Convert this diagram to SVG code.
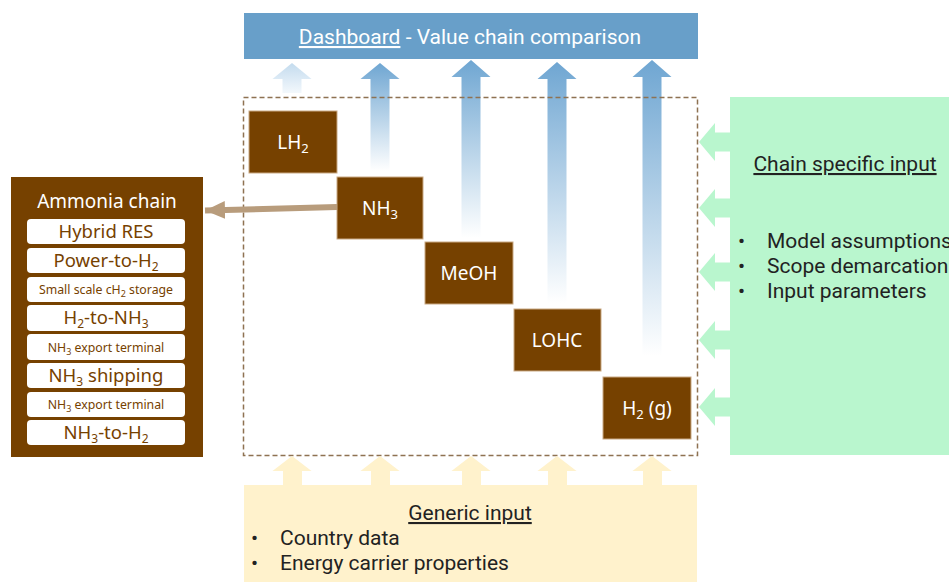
<svg xmlns="http://www.w3.org/2000/svg" width="949" height="582" viewBox="0 0 949 582">
<defs>
  <linearGradient id="gBlue" x1="0" y1="0" x2="0" y2="1">
    <stop offset="0" stop-color="#6FA6D2"/>
    <stop offset="1" stop-color="#FFFFFF"/>
  </linearGradient>
  <linearGradient id="gBlueLight" x1="0" y1="0" x2="0" y2="1">
    <stop offset="0" stop-color="#C3DBEE"/>
    <stop offset="1" stop-color="#F3F8FC"/>
  </linearGradient>
  <marker id="arrowTan" markerUnits="userSpaceOnUse" markerWidth="24" markerHeight="20" refX="20" refY="9" orient="auto">
    <path d="M0,0 L20,9 L0,18 Z" fill="#B89C7C"/>
  </marker>
</defs>
<style>
  .brown { fill: #764100; stroke: #C9A983; stroke-width: 1; }
  .btxt { fill: #FFFFFF; font-family: "Noto Sans", "Open Sans", sans-serif; font-size: 19px; text-anchor: middle; }
  .item { fill: #FFFFFF; }
  .itxt { fill: #764100; font-family: "Noto Sans", "Open Sans", sans-serif; font-size: 18.5px; text-anchor: middle; }
  .ismall { font-size: 12.3px; }
  .ytxt { fill: #222222; font-family: Roboto, "Liberation Sans", sans-serif; font-size: 21px; }
  .dash { fill: none; stroke: #8E7252; stroke-width: 1.5; stroke-dasharray: 5 3; }
  .yarrow { fill: #FFF2CC; }
  .garrow { fill: #B9F6CE; }
</style>

<!-- Dashboard -->
<g id="dashboard">
  <rect x="244" y="13" width="454" height="46" fill="#689FC9"/>
  <text x="470" y="44" fill="#FFFFFF" font-family="Roboto, 'Liberation Sans', sans-serif" font-size="21" text-anchor="middle"><tspan text-decoration="underline">Dashboard</tspan> - Value chain comparison</text>
</g>

<!-- Blue arrows to dashboard -->
<g id="blue-arrows">
  <path d="M292,63 L311.5,79 L301.5,79 L301.5,93 L282.5,93 L282.5,79 L272.5,79 Z" fill="url(#gBlueLight)"/>
  <path d="M380,63 L399.5,79 L389.5,79 L389.5,171 L370.5,171 L370.5,79 L360.5,79 Z" fill="url(#gBlue)"/>
  <path d="M471,60 L490.5,77 L480.5,77 L480.5,238 L461.5,238 L461.5,77 L451.5,77 Z" fill="url(#gBlue)"/>
  <path d="M557,62 L576.5,79 L566.5,79 L566.5,303 L547.5,303 L547.5,79 L537.5,79 Z" fill="url(#gBlue)"/>
  <path d="M652,60 L671.5,77 L661.5,77 L661.5,356 L642.5,356 L642.5,77 L632.5,77 Z" fill="url(#gBlue)"/>
</g>

<!-- Dashed frame -->
<g id="frame">
  <rect x="243.5" y="97.5" width="454" height="358" class="dash"/>
</g>

<!-- Carrier nodes -->
<g id="lh2">
  <rect x="249" y="111" width="88" height="62" class="brown"/>
  <text x="293" y="149" class="btxt">LH<tspan dy="4" font-size="13">2</tspan></text>
</g>
<g id="nh3">
  <rect x="337" y="177" width="86" height="62" class="brown"/>
  <text x="380" y="215" class="btxt">NH<tspan dy="4" font-size="13">3</tspan></text>
</g>
<g id="meoh">
  <rect x="425" y="242" width="88" height="62" class="brown"/>
  <text x="469" y="280" class="btxt">MeOH</text>
</g>
<g id="lohc">
  <rect x="514" y="309" width="87" height="62" class="brown"/>
  <text x="557" y="347" class="btxt">LOHC</text>
</g>
<g id="h2g">
  <rect x="603" y="377" width="88" height="62" class="brown"/>
  <text x="647" y="415" class="btxt">H<tspan dy="4" font-size="13">2</tspan><tspan dy="-4"> (g)</tspan></text>
</g>

<!-- Ammonia chain -->
<g id="ammonia-chain">
  <rect x="11" y="177" width="192" height="280" fill="#764100"/>
  <text x="107" y="208" fill="#FFFFFF" font-family="'Noto Sans', 'Open Sans', sans-serif" font-size="19" text-anchor="middle">Ammonia chain</text>
  <rect x="27" y="219" width="158" height="25" rx="4" class="item"/>
  <text x="106" y="238" class="itxt">Hybrid RES</text>
  <rect x="27" y="248" width="158" height="25" rx="4" class="item"/>
  <text x="106" y="267" class="itxt">Power-to-H<tspan dy="4" font-size="12">2</tspan></text>
  <rect x="27" y="277" width="158" height="25" rx="4" class="item"/>
  <text x="106" y="294" class="itxt ismall">Small scale cH<tspan dy="3" font-size="9">2</tspan><tspan dy="-3"> storage</tspan></text>
  <rect x="27" y="305" width="158" height="26" rx="4" class="item"/>
  <text x="106" y="324" class="itxt">H<tspan dy="4" font-size="12">2</tspan><tspan dy="-4">-to-NH</tspan><tspan dy="4" font-size="12">3</tspan></text>
  <rect x="27" y="334" width="158" height="26" rx="4" class="item"/>
  <text x="106" y="351.5" class="itxt ismall">NH<tspan dy="3" font-size="9">3</tspan><tspan dy="-3"> export terminal</tspan></text>
  <rect x="27" y="363" width="158" height="25" rx="4" class="item"/>
  <text x="106" y="382" class="itxt">NH<tspan dy="4" font-size="12">3</tspan><tspan dy="-4"> shipping</tspan></text>
  <rect x="27" y="392" width="158" height="25" rx="4" class="item"/>
  <text x="106" y="409" class="itxt ismall">NH<tspan dy="3" font-size="9">3</tspan><tspan dy="-3"> export terminal</tspan></text>
  <rect x="27" y="420" width="158" height="25" rx="4" class="item"/>
  <text x="106" y="439" class="itxt">NH<tspan dy="4" font-size="12">3</tspan><tspan dy="-4">-to-H</tspan><tspan dy="4" font-size="12">2</tspan></text>
</g>

<!-- Connectors -->
<g id="connectors">
  <line x1="337" y1="207" x2="205" y2="210.5" stroke="#B89C7C" stroke-width="6" marker-end="url(#arrowTan)"/>
</g>

<!-- Chain specific input -->
<g id="chain-specific-input">
  <rect x="730" y="97" width="219" height="358" fill="#B9F6CE"/>
  <path d="M699,142 L715,123 L715,132.5 L731,132.5 L731,151.5 L715,151.5 L715,161 Z" class="garrow"/>
  <path d="M699,208 L715,189 L715,198.5 L731,198.5 L731,217.5 L715,217.5 L715,227 Z" class="garrow"/>
  <path d="M699,272 L715,253 L715,262.5 L731,262.5 L731,281.5 L715,281.5 L715,291 Z" class="garrow"/>
  <path d="M699,340 L715,321 L715,330.5 L731,330.5 L731,349.5 L715,349.5 L715,359 Z" class="garrow"/>
  <path d="M699,407 L715,388 L715,397.5 L731,397.5 L731,416.5 L715,416.5 L715,426 Z" class="garrow"/>
  <text x="845" y="171" class="ytxt" text-anchor="middle" text-decoration="underline">Chain specific input</text>
  <text class="ytxt"><tspan x="738" y="248">•</tspan><tspan x="767" y="248">Model assumptions</tspan></text>
  <text class="ytxt"><tspan x="738" y="273">•</tspan><tspan x="767" y="273">Scope demarcation</tspan></text>
  <text class="ytxt"><tspan x="738" y="298">•</tspan><tspan x="767" y="298">Input parameters</tspan></text>
</g>

<!-- Generic input -->
<g id="generic-input">
  <rect x="244" y="485" width="453" height="97" fill="#FFF2CC"/>
  <path d="M292,456 L311.5,471 L302,471 L302,486 L283,486 L283,471 L272.5,471 Z" class="yarrow"/>
  <path d="M380,456 L399.5,471 L390,471 L390,486 L371,486 L371,471 L360.5,471 Z" class="yarrow"/>
  <path d="M471,456 L490.5,471 L481,471 L481,486 L462,486 L462,471 L451.5,471 Z" class="yarrow"/>
  <path d="M557,456 L576.5,471 L567,471 L567,486 L548,486 L548,471 L537.5,471 Z" class="yarrow"/>
  <path d="M652,456 L671.5,471 L662,471 L662,486 L643,486 L643,471 L632.5,471 Z" class="yarrow"/>
  <text x="470" y="520" class="ytxt" text-anchor="middle" text-decoration="underline">Generic input</text>
  <text class="ytxt"><tspan x="251" y="545">•</tspan><tspan x="280" y="545">Country data</tspan></text>
  <text class="ytxt"><tspan x="251" y="570">•</tspan><tspan x="280" y="570">Energy carrier properties</tspan></text>
</g>
</svg>
